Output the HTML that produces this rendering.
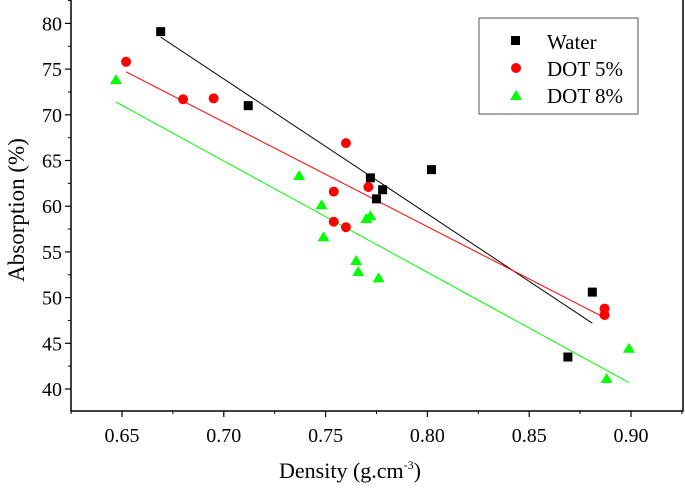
<!DOCTYPE html>
<html><head><meta charset="utf-8"><style>
html,body{margin:0;padding:0;background:#fff;}
svg, svg text{font-family:"Liberation Serif","DejaVu Serif",serif;}
</style></head><body>
<svg id="chart" width="685" height="485" viewBox="0 0 685 485" xmlns="http://www.w3.org/2000/svg" font-family="Liberation Serif, serif">
<g id="axes"></g>
<g id="fits"></g>
<g id="marks"></g>
<g id="legend">
<rect x="479" y="18" width="159" height="96" fill="#fff" stroke="#555" stroke-width="1"/>
<rect x="511" y="36" width="9" height="9" fill="#000"/>
<text x="547" y="49" font-size="21">Water</text>
<circle cx="516" cy="68" r="5" fill="#f00"/>
<text x="547" y="76" font-size="21">DOT 5%</text>
<polygon points="516,90 522,100 510,100" fill="#0f0"/>
<text x="547" y="103" font-size="21">DOT 8%</text>
</g>
<text x="350" y="478" font-size="22" text-anchor="middle">Density (g.cm<tspan font-size="12" dy="-9">-3</tspan><tspan dy="9">)</tspan></text>
<text transform="translate(24,210) rotate(-90)" font-size="23" text-anchor="middle">Absorption (%)</text>
</svg>
<script>
const xTicks=[0.65,0.70,0.75,0.80,0.85,0.90];
const yTicks=[40,45,50,55,60,65,70,75,80];
const waterX=[0.669,0.712,0.772,0.775,0.778,0.802,0.869,0.881];
const waterY=[79.1,71.0,63.1,60.8,61.8,64.0,43.5,50.6];
const dot5X=[0.652,0.680,0.695,0.760,0.754,0.754,0.760,0.771,0.887,0.887];
const dot5Y=[75.8,71.7,71.8,66.9,61.6,58.3,57.7,62.1,48.8,48.1];
const dot8X=[0.647,0.737,0.748,0.749,0.765,0.766,0.776,0.770,0.772,0.888,0.899];
const dot8Y=[73.8,63.3,60.1,56.6,54.0,52.8,52.1,58.6,58.9,41.1,44.4];
const fitWaterX=[0.669,0.881], fitWaterY=[78.5,47.2];
const fitDot5X=[0.652,0.887], fitDot5Y=[74.7,47.8];
const fitDot8X=[0.647,0.899], fitDot8Y=[71.4,40.7];

const NS="http://www.w3.org/2000/svg";
const L=71,R=683,T=0,B=411;
const sx=v=>122+(v-0.65)/0.05*101.8;
const sy=v=>389-(v-40)/10*91.4;
function mk(tag,attrs,parent){const e=document.createElementNS(NS,tag);for(const k in attrs)e.setAttribute(k,attrs[k]);parent.appendChild(e);return e;}
const axes=document.getElementById('axes');
let e;
e=mk('polyline',{points:`${L},${T} ${L},${B} ${R},${B} ${R},${T}`,fill:'none',stroke:'#000','stroke-width':1.5},axes);


xTicks.forEach(t=>{
  const x=sx(t);
  e=mk('line',{x1:x,x2:x,y1:B,y2:B+6,stroke:'#000','stroke-width':1.2},axes);
  
  
  const xm=sx(t-0.025);
  if(xm>L){e=mk('line',{x1:xm,x2:xm,y1:B,y2:B+3,stroke:'#000','stroke-width':1},axes);
  
  }
  e=mk('text',{x:x,y:B+31,'font-size':20,'text-anchor':'middle','font-family':'Liberation Serif, serif'},axes);
  e.textContent=t.toFixed(2);
  
  
});
const xm=sx(0.925);
e=mk('line',{x1:xm,x2:xm,y1:B,y2:B+3,stroke:'#000','stroke-width':1},axes);


yTicks.forEach(t=>{
  const y=sy(t);
  e=mk('line',{x1:L-6,x2:L,y1:y,y2:y,stroke:'#000','stroke-width':1.2},axes);
  
  
  [t-2.5,t+2.5].forEach(m=>{const ym=sy(m);if(ym<B&&ym>T&&(m<40||m===t+2.5)){
    e=mk('line',{x1:L-3,x2:L,y1:ym,y2:ym,stroke:'#000','stroke-width':1},axes);
    
    }});
  e=mk('text',{x:L-9,y:y+7,'font-size':20,'text-anchor':'end','font-family':'Liberation Serif, serif'},axes);
  e.textContent=t;
  
  
});
const fits=document.getElementById('fits');
[[fitWaterX,fitWaterY,'#000','fit-water'],[fitDot5X,fitDot5Y,'#f00','fit-dot5'],[fitDot8X,fitDot8Y,'#0f0','fit-dot8']].forEach(([xs,ys,c,n])=>{
  e=mk('line',{x1:sx(xs[0]),y1:sy(ys[0]),x2:sx(xs[1]),y2:sy(ys[1]),stroke:c,'stroke-width':1},fits);
  
  
});
const marks=document.getElementById('marks');
waterX.forEach((v,i)=>{
  e=mk('rect',{x:sx(v)-4.5,y:sy(waterY[i])-4.5,width:9,height:9,fill:'#000'},marks);
  
  
});
dot5X.forEach((v,i)=>{
  e=mk('circle',{cx:sx(v),cy:sy(dot5Y[i]),r:5,fill:'#f00'},marks);
  
  
});
dot8X.forEach((v,i)=>{
  const x=sx(v),y=sy(dot8Y[i]);
  e=mk('polygon',{points:`${x},${y-6} ${x+6},${y+4} ${x-6},${y+4}`,fill:'#0f0'},marks);
  
  
});
</script>
</body></html>
